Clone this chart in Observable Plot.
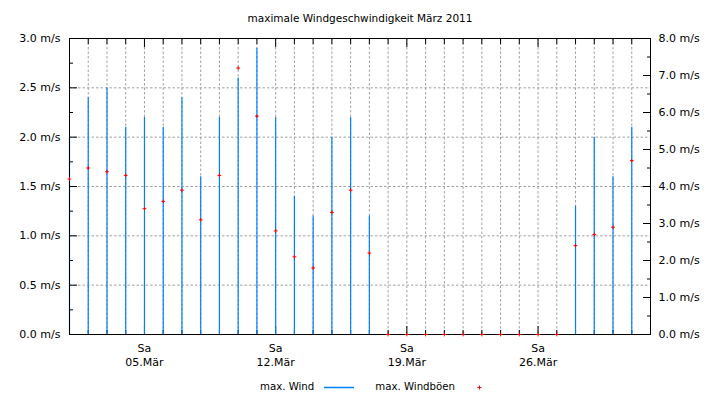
<!DOCTYPE html>
<html><head><meta charset="utf-8">
<script src="https://cdn.jsdelivr.net/npm/d3@7"></script>
<script src="https://cdn.jsdelivr.net/npm/@observablehq/plot@0.6"></script>
<style>
body{margin:0;background:#fff;font-family:"DejaVu Sans",sans-serif;color:#000}
#wrap{width:720px;height:400px;position:relative;overflow:hidden}
#title{position:absolute;top:11px;left:0;width:720px;text-align:center;font-size:10.5px;line-height:14px}
#chart{position:absolute;top:30px;left:0}
#legend{position:absolute;top:380px;left:260px;font-size:10.2px;line-height:14px;display:flex;align-items:center;white-space:nowrap}
</style></head>
<body>
<div id="wrap">
  <div id="title">maximale Windgeschwindigkeit März 2011</div>
  <div id="chart"></div>
  <div id="legend">
    <span>max. Wind</span>
    <svg width="30" height="14" style="margin-left:10px"><line x1="0" x2="30" y1="7.5" y2="7.5" stroke="#0080ff" stroke-width="1.5"/></svg>
    <span style="margin-left:21px">max. Windböen</span>
    <svg width="5" height="14" style="margin-left:22px"><path d="M0.5,7.5h4M2.5,5.5v4" stroke="red" stroke-width="1" fill="none"/></svg>
  </div>
</div>
<script>
// Days of March 2011
const days = d3.range(1, 32);
// max. Wind (m/s, left axis)
const wind = [2.0, 2.4, 2.5, 2.1, 2.2, 2.1, 2.4, 1.6, 2.2, 2.6,
              2.9, 2.2, 1.4, 1.2, 2.0, 2.2, 1.2, 0, 0, 0,
              0, 0, 0, 0, 0, 0, 0, 1.3, 2.0, 1.6, 2.1];
// max. Windböen (m/s, right axis)
const gust = [4.2, 4.5, 4.4, 4.3, 3.4, 3.6, 3.9, 3.1, 4.3, 7.2,
              5.9, 2.8, 2.1, 1.8, 3.3, 3.9, 2.2, 0, 0, 0,
              0, 0, 0, 0, 0, 0, 0, 2.4, 2.7, 2.9, 4.7];
const saturdays = [5, 12, 19, 26];
const satLabels = ["Sa\n05.Mär", "Sa\n12.Mär", "Sa\n19.Mär", "Sa\n26.Mär"];
const leftTicks = [0, 0.5, 1, 1.5, 2, 2.5, 3];
const leftMinor = [0.25, 0.75, 1.25, 1.75, 2.25, 2.75];
const rightTicks = [0, 1, 2, 3, 4, 5, 6, 7, 8];
const rightMinor = [0.5, 1.5, 2.5, 3.5, 4.5, 5.5, 6.5, 7.5];

const dt = d => new Date(Date.UTC(2011, 2, d));
const R = 3 / 8; // right axis (0..8) to left axis (0..3)
const data = days.map((d, i) => ({date: dt(d), wind: wind[i], gust: gust[i]}));
const dayDates = days.map(dt);
const satDates = saturdays.map(dt);
const otherDates = days.filter(d => !saturdays.includes(d)).map(dt);
const gridStyle = {stroke: "#a0a0a0", strokeOpacity: 1, strokeDasharray: "2.5,2"};

const chart = Plot.plot({
  width: 720, height: 342,
  marginLeft: 69, marginRight: 70, marginTop: 8, marginBottom: 38,
  style: {fontFamily: "DejaVu Sans", fontSize: "11px", background: "white", color: "black"},
  x: {type: "utc", domain: [dt(1), dt(32)]},
  y: {domain: [0, 3]},
  marks: [
    Plot.gridX(dayDates, gridStyle),
    Plot.gridY(leftTicks.slice(1, -1), gridStyle),
    Plot.axisY(leftTicks, {anchor: "left", tickSize: -8, fill: "none", label: null}),
    Plot.axisY(leftMinor, {anchor: "left", tickSize: -4, fill: "none", label: null}),
    Plot.axisY(rightTicks.map(t => t * R), {anchor: "right", tickSize: -8, fill: "none", label: null}),
    Plot.axisY(rightMinor.map(t => t * R), {anchor: "right", tickSize: -4, fill: "none", label: null}),
    Plot.axisX(otherDates, {anchor: "top", tickSize: -5, fill: "none", label: null}),
    Plot.axisX(satDates, {anchor: "top", tickSize: -8, fill: "none", label: null}),
    Plot.axisX(otherDates, {anchor: "bottom", tickSize: -4, fill: "none", label: null}),
    Plot.axisX(satDates, {anchor: "bottom", tickSize: -8, fill: "none", label: null}),
    Plot.ruleX(data.filter(d => d.wind > 0), {x: "date", y1: 0, y2: "wind", stroke: "#0080ff", strokeWidth: 1.2}),
    Plot.frame({stroke: "black"}),
    Plot.axisY(leftTicks, {anchor: "left", tickSize: 0, tickPadding: 9, tickFormat: d => d.toFixed(1) + " m/s", label: null}),
    Plot.axisY(rightTicks.map(t => t * R), {anchor: "right", tickSize: 0, tickPadding: 8, tickFormat: d => (d / R).toFixed(1) + " m/s", label: null}),
    Plot.axisX(satDates, {anchor: "bottom", tickSize: 0, tickPadding: 8, lineHeight: 1.27, tickFormat: d => satLabels[saturdays.indexOf(d.getUTCDate())], label: null}),
    Plot.dot(data, {x: "date", y: d => d.gust * R, symbol: "plus", r: 1.3, stroke: "red", strokeWidth: 1})
  ]
});
document.getElementById("chart").appendChild(chart);
</script>
</body></html>
